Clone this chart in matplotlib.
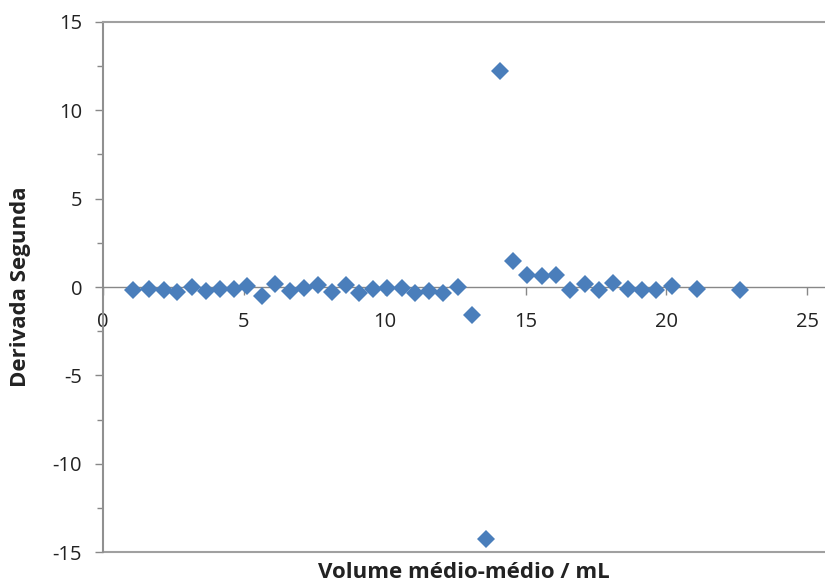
import matplotlib
matplotlib.use("Agg")
import matplotlib.pyplot as plt
from matplotlib.ticker import MultipleLocator

# volume medio-medio (mL) and second derivative values
volume = [1.08, 1.64, 2.17, 2.64, 3.15, 3.66, 4.15, 4.65, 5.10, 5.63,
          6.11, 6.64, 7.14, 7.64, 8.12, 8.62, 9.10, 9.60, 10.09, 10.60,
          11.08, 11.57, 12.08, 12.61, 13.09, 13.60, 14.09, 14.57, 15.06, 15.57,
          16.08, 16.58, 17.11, 17.62, 18.12, 18.65, 19.12, 19.63, 20.19, 21.10,
          22.61]
derivada = [-0.15, -0.1, -0.15, -0.3, 0.0, -0.25, -0.1, -0.1, 0.05, -0.5,
            0.15, -0.25, -0.05, 0.1, -0.3, 0.1, -0.35, -0.1, -0.05, -0.05,
            -0.35, -0.25, -0.35, 0.0, -1.6, -14.25, 12.2, 1.45, 0.7, 0.6,
            0.7, -0.15, 0.15, -0.15, 0.2, -0.1, -0.15, -0.15, 0.05, -0.1,
            -0.15]

plt.rcParams['font.family'] = ['Open Sans', 'DejaVu Sans']
plt.rcParams['axes.unicode_minus'] = False

fig = plt.figure(figsize=(8.25, 5.85), dpi=100)
ax = fig.add_axes([0.1248, 0.0564, 0.8752, 0.906])

ax.plot(volume, derivada, linestyle='none', marker='D', markersize=9,
        color='#4a7ebb', markeredgewidth=0, zorder=5, clip_on=False)

ax.set_xlim(0, 25.63)
ax.set_ylim(-15, 15)
ax.xaxis.set_major_locator(MultipleLocator(5))
ax.yaxis.set_major_locator(MultipleLocator(5))
ax.yaxis.set_minor_locator(MultipleLocator(2.5))

ax.spines['bottom'].set_position(('data', 0))
ax.spines['bottom'].set_color('#888888')
ax.spines['bottom'].set_linewidth(1.0)
ax.spines['left'].set_color('#909090')
ax.spines['left'].set_linewidth(1.5)
ax.spines['top'].set_color('#a0a0a0')
ax.spines['top'].set_linewidth(1.5)
ax.spines['right'].set_visible(False)
ax.axhline(ax.get_ylim()[0], color='#a0a0a0', linewidth=1.5, clip_on=False)

ax.tick_params(axis='both', which='major', length=6, width=1,
               color='#888888', labelsize=14.5, labelcolor='#222222')
ax.tick_params(axis='y', which='major', pad=9)
ax.tick_params(axis='x', which='major', pad=12)
ax.tick_params(axis='y', which='minor', length=4, width=1, color='#888888')

ax.set_xlabel('Volume médio-médio / mL', fontsize=16, fontweight='bold',
              color='#222222')
ax.xaxis.set_label_coords(0.5, -0.019)
ax.set_ylabel('Derivada Segunda', fontsize=16, fontweight='bold',
              color='#222222')
ax.yaxis.set_label_coords(-0.1, 0.5)

fig.savefig('out.png', dpi=100)
